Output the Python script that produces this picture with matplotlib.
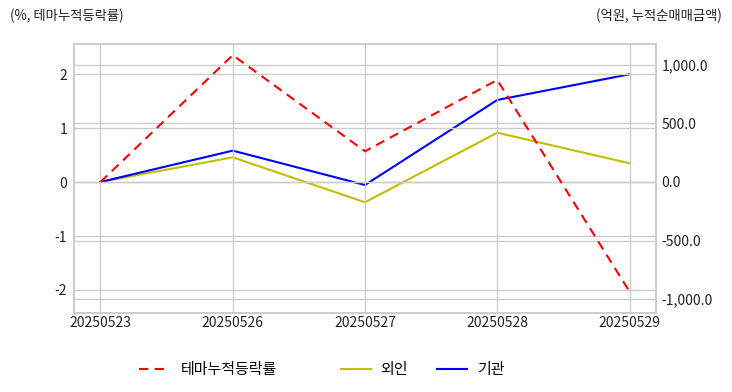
import numpy as np
import matplotlib.pyplot as plt
from matplotlib.ticker import FuncFormatter

plt.rcParams['font.family'] = ['Noto Sans CJK KR', 'DejaVu Sans']
plt.rcParams['axes.unicode_minus'] = False

dates = ['20250523', '20250526', '20250527', '20250528', '20250529']
theme_ret = [0.0, 2.35, 0.57, 1.89, -2.03]      # %, 테마누적등락률
foreign = [0.0, 210.0, -173.0, 420.0, 159.0]    # 억원, 외인
inst = [0.0, 267.0, -26.0, 699.0, 918.0]        # 억원, 기관

fig = plt.figure(figsize=(7.32, 3.92), dpi=100)
ax = fig.add_axes([74/732, 1-313/392, (656-74)/732, (313-44)/392])
ax2 = ax.twinx()

x = np.arange(len(dates))
l1, = ax.plot(x, theme_ret, color='r', ls='--', lw=1.5, dashes=(4.5, 3), label='테마누적등락률')
l2, = ax2.plot(x, foreign, color='y', lw=1.5, label='외인')
l3, = ax2.plot(x, inst, color='b', lw=1.5, label='기관')

grid_c = '#cccccc'
for a in (ax, ax2):
    a.tick_params(length=0, labelsize=10, colors='#222222')
    for s in a.spines.values():
        s.set_color(grid_c)
        s.set_linewidth(1.2)
ax.set_xlim(-0.2, 4.2)
ax.set_ylim(-2.426, 2.556)
ax2.set_ylim(-1117, 1176)
ax.set_xticks(x)
ax.set_xticklabels(dates)
ax.set_yticks([-2, -1, 0, 1, 2])
ax2.set_yticks([-1000, -500, 0, 500, 1000])
ax2.yaxis.set_major_formatter(FuncFormatter(lambda v, p: f'{v:,.1f}'))
ax.grid(True, color=grid_c, lw=1)
ax2.grid(True, axis='y', color=grid_c, lw=1)
ax.set_zorder(ax2.get_zorder() + 1)
ax.patch.set_visible(False)
ax.tick_params(axis='x', pad=2)
ax.tick_params(axis='y', pad=5)
ax2.tick_params(axis='y', pad=4)

fig.text(10/732, 1-16/392, '(%, 테마누적등락률)', fontsize=9.6, color='#222222', va='center', ha='left')
fig.text(722/732, 1-16/392, '(억원, 누적순매매금액)', fontsize=9.6, color='#222222', va='center', ha='right')

fig.legend(handles=[l1], loc='center left', bbox_to_anchor=(125/732, 1-370/392), frameon=False,
           fontsize=10.8, handlelength=1.95, handletextpad=0.85)
fig.legend(handles=[l2, l3], loc='center left', bbox_to_anchor=(327/732, 1-370/392), frameon=False,
           fontsize=10.8, ncol=2, handlelength=2.0, handletextpad=0.67, columnspacing=1.9)

fig.savefig('out.png', dpi=100)
